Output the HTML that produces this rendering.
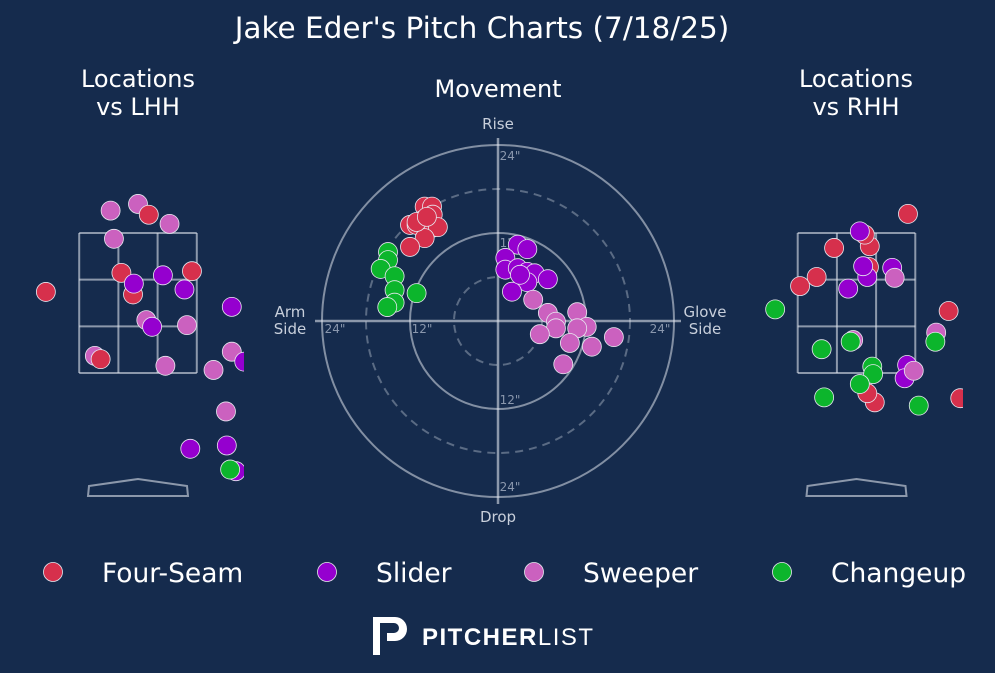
<!DOCTYPE html>
<html><head><meta charset="utf-8"><style>
html,body{margin:0;padding:0;background:#152b4d;}
svg{display:block;font-family:"DejaVu Sans","Liberation Sans",sans-serif;}
</style></head><body>
<svg id="chart" width="995" height="673" viewBox="0 0 995 673">
<rect width="995" height="673" fill="#152b4d"/>
<text x="482" y="38" fill="#fff" font-size="29.5" text-anchor="middle">Jake Eder's Pitch Charts (7/18/25)</text>
<text x="138" y="87" fill="#fff" font-size="24" text-anchor="middle"><tspan x="138">Locations</tspan><tspan x="138" dy="28">vs LHH</tspan></text>
<text x="498" y="97" fill="#fff" font-size="24" text-anchor="middle">Movement</text>
<text x="856" y="87" fill="#fff" font-size="24" text-anchor="middle"><tspan x="856">Locations</tspan><tspan x="856" dy="28">vs RHH</tspan></text>
<defs>
<clipPath id="clipL"><rect x="0" y="140" width="244" height="380"/></clipPath>
<clipPath id="clipR"><rect x="720" y="140" width="243" height="380"/></clipPath>
</defs>
<g id="left" clip-path="url(#clipL)"></g>
<g id="right" clip-path="url(#clipR)"></g>
<g id="move"></g>
<g id="legend"></g>
<g>
<path d="M373 617 h22 a12 12 0 0 1 0 24 h-8 v-8 h7 a5 5 0 0 0 0 -10 h-14 v32 h-7z" fill="#fff"/>
<text x="422" y="645" fill="#fff" font-size="24" font-weight="bold" letter-spacing="1.5" font-family="Liberation Sans, sans-serif">PITCHER<tspan font-weight="normal">LIST</tspan></text>
</g>
</svg>
<script>
const NS='http://www.w3.org/2000/svg';
const pitchTypes=['Four-Seam','Slider','Sweeper','Changeup'];
const pitchColors=['#d6304c','#9500cf','#cb61bf','#0cb52c'];
// Locations vs LHH (plate_x ft, plate_z ft)
const lhhType=[2,2,2,2,2,2,2,2,2,2,2,0,0,0,0,0,0,1,1,1,1,1,1,1,1,1,3];
const lhhX=[-0.33,0.00,0.38,-0.29,0.10,0.59,-0.52,0.33,0.91,1.13,1.06,0.13,-1.11,-0.20,0.65,-0.06,-0.45,-0.05,0.30,0.56,0.17,1.13,1.28,0.63,1.07,1.18,1.11];
const lhhZ=[3.77,3.85,3.61,3.43,2.45,2.39,2.02,1.90,1.85,2.07,1.35,3.72,2.79,3.02,3.04,2.76,1.98,2.89,2.99,2.82,2.37,2.61,1.95,0.90,0.94,0.63,0.65];
// Locations vs RHH
const rhhType=[0,0,0,0,0,0,0,0,0,0,0,1,1,1,1,1,1,1,2,2,2,2,3,3,3,3,3,3,3,3,3];
const rhhX=[0.62,-0.27,0.16,0.10,-0.48,-0.68,0.15,1.11,0.22,0.13,1.25,0.04,0.13,0.08,0.43,-0.10,0.61,0.58,0.46,-0.04,0.96,0.69,-0.98,-0.42,-0.07,0.19,0.20,0.04,-0.39,0.95,0.75];
const rhhZ=[3.73,3.32,3.34,3.48,2.97,2.86,3.09,2.56,1.46,1.57,1.51,3.52,2.97,3.10,3.08,2.83,1.91,1.75,2.96,2.21,2.30,1.84,2.58,2.10,2.19,1.89,1.80,1.68,1.52,2.19,1.42];
// Movement (horizontal inches, + = glove side; vertical inches)
const mvType=[0,0,0,0,0,0,0,0,0,0,0,0,3,3,3,3,3,3,3,3,1,1,1,1,1,1,1,1,1,1,1,2,2,2,2,2,2,2,2,2,2,2,2];
const mvH=[-10.0,-9.0,-8.9,-12.0,-11.1,-10.2,-9.0,-8.2,-10.0,-12.0,-11.1,-9.7,-15.0,-15.0,-16.0,-14.1,-14.1,-14.1,-15.1,-11.1,2.7,4.0,1.0,1.0,2.7,4.0,5.0,6.8,4.0,1.9,3.0,4.8,6.8,7.9,7.9,10.8,12.1,10.8,5.7,9.8,12.8,15.8,8.9];
const mvV=[15.6,15.6,14.5,13.1,13.1,13.8,12.7,12.8,11.3,10.1,13.5,14.2,9.4,8.3,7.1,6.1,4.2,2.5,1.9,3.8,10.4,9.8,8.6,7.0,7.2,6.7,6.5,5.7,5.3,4.0,6.3,2.9,1.1,-0.1,-1.0,1.2,-0.8,-1.0,-1.8,-3.0,-3.5,-2.2,-5.9];
const ringInches=[6,12,18,24];

function mk(tag,attrs,parent){const e=document.createElementNS(NS,tag);for(const k in attrs)e.setAttribute(k,attrs[k]);parent.appendChild(e);return e;}
const LINE='rgba(220,225,235,0.6)';

function drawLoc(g,cx,types,xs,zs,panel){
  const s=83, zTop=233;
  const sx=x=>cx+x*s, sz=z=>zTop+(3.5-z)*s;
  const half=17/24, zw=2*half*s/3, zh=140/3;
  const left=cx-half*s;
  for(let i=0;i<=3;i++){
    const v=mk('line',{x1:left+i*zw,x2:left+i*zw,y1:233,y2:373,stroke:LINE,'stroke-width':2},g);
    
    
    const h=mk('line',{x1:left,x2:left+3*zw,y1:233+i*zh,y2:233+i*zh,stroke:LINE,'stroke-width':2},g);
    
    
  }
  const p=mk('path',{d:`M${cx-49} 486 L${cx} 479 L${cx+49} 486 L${cx+50} 496 L${cx-50} 496 Z`,fill:'none',stroke:LINE,'stroke-width':2},g);
  
  
  for(let i=0;i<xs.length;i++){
    const c=mk('circle',{cx:sx(xs[i]),cy:sz(zs[i]),r:9.5,fill:pitchColors[types[i]],stroke:'#e8e8f0','stroke-width':0.8},g);
    
    
  }
}
drawLoc(document.getElementById('left'),138,lhhType,lhhX,lhhZ,'lhh');
drawLoc(document.getElementById('right'),856.5,rhhType,rhhX,rhhZ,'rhh');

(function(){
  const g=document.getElementById('move');
  const cx=498, cy=321, k=176/24;
  const px=h=>cx+h*k, py=v=>cy-v*k;
  ringInches.forEach(r=>{
    const c=mk('circle',{cx:cx,cy:cy,r:r*k,fill:'none',stroke:r%12===0?'rgba(220,225,235,0.55)':'rgba(220,225,235,0.35)','stroke-width':2},g);
    if(r%12!==0)c.setAttribute('stroke-dasharray','8,6');
    
    
  });
  const a1=mk('line',{x1:315,x2:681,y1:cy,y2:cy,stroke:'rgba(220,225,235,0.6)','stroke-width':2.5},g);
  
  
  const a2=mk('line',{x1:cx,x2:cx,y1:138,y2:504,stroke:'rgba(220,225,235,0.6)','stroke-width':2.5},g);
  
  
  const tl=[[510,160,'24"'],[510,247,'12"'],[510,404,'12"'],[510,491,'24"'],[335,333,'24"'],[422,333,'12"'],[660,333,'24"']];
  tl.forEach(t=>{const e=mk('text',{x:t[0],y:t[1],fill:'#8a97ad','font-size':12,'text-anchor':'middle'},g);e.textContent=t[2];
    
    });
  const labs=[[498,129,['Rise']],[498,522,['Drop']],[290,317,['Arm','Side']],[705,317,['Glove','Side']]];
  labs.forEach(l=>{const e=mk('text',{x:l[0],y:l[1],fill:'#c8cfdb','font-size':15,'text-anchor':'middle'},g);
    l[2].forEach((s,i)=>{const t=mk('tspan',{x:l[0],dy:i?17:0},e);t.textContent=s;});
    
    });
  for(let i=0;i<mvH.length;i++){
    const c=mk('circle',{cx:px(mvH[i]),cy:py(mvV[i]),r:9.5,fill:pitchColors[mvType[i]],stroke:'#e8e8f0','stroke-width':0.8},g);
    
    
  }
})();

(function(){
  const g=document.getElementById('legend');
  const xs=[53,327,534,782];
  pitchTypes.forEach((t,i)=>{
    const c=mk('circle',{cx:xs[i],cy:572,r:9.5,fill:pitchColors[i],stroke:'#e8e8f0','stroke-width':0.8},g);
    
    
    const e=mk('text',{x:xs[i]+49,y:582,fill:'#fff','font-size':26.5},g);
    e.textContent=t;
    
    
  });
})();
</script>
</body></html>
